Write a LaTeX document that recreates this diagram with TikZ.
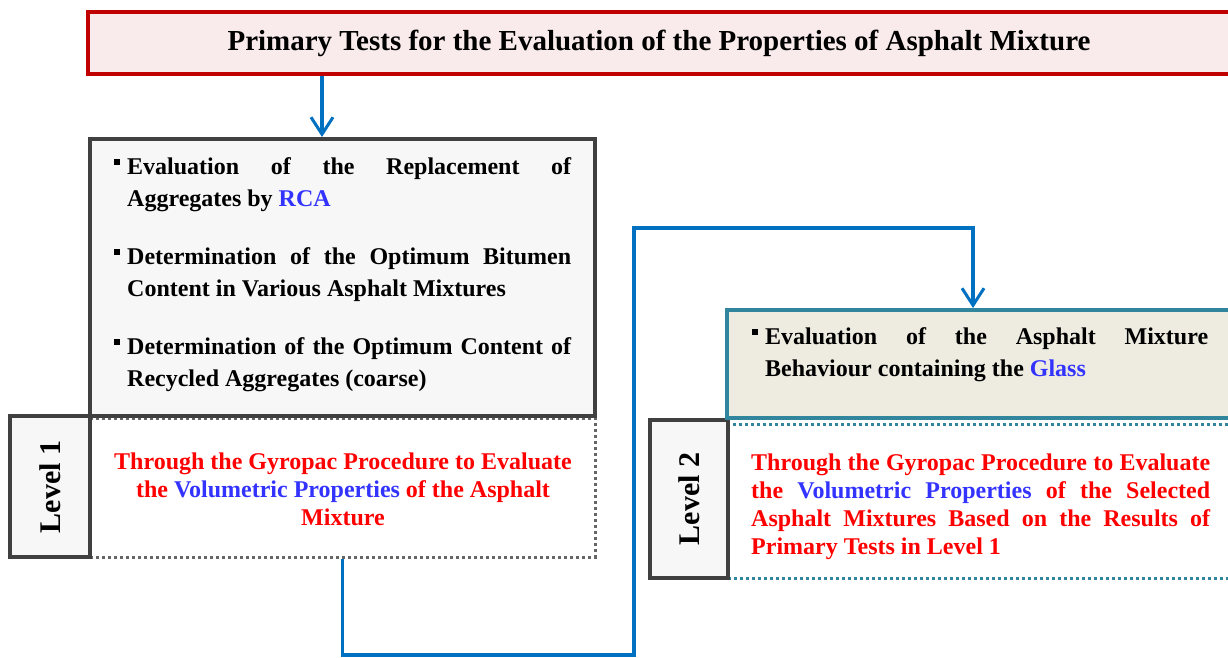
\documentclass[tikz,border=0pt]{standalone}
\usepackage{fontspec}
\setmainfont{Liberation Serif}
\usetikzlibrary{arrows.meta}
\newcommand\nohyph{\hyphenpenalty=10000\exhyphenpenalty=10000\tolerance=9999\emergencystretch=3em\relax}
\newcommand\jpar[2]{\parbox[t]{#1}{\nohyph #2}}
\definecolor{flowblue}{HTML}{0070C0}
\definecolor{txtblue}{HTML}{3333FF}
\definecolor{txtred}{HTML}{FF0000}
\definecolor{titleborder}{HTML}{C00000}
\definecolor{titlefill}{HTML}{F9EBEB}
\definecolor{darkborder}{HTML}{404040}
\definecolor{lightfill}{HTML}{F7F7F7}
\definecolor{tealborder}{HTML}{31859C}
\definecolor{tealfill}{HTML}{EEECE1}
\tikzset{
  panel/.style={draw, line width=4pt, inner sep=0pt},
  dotpanel/.style={draw, line width=3pt, dash pattern=on 3pt off 3pt, fill=white, inner sep=0pt},
  flow/.style={draw=flowblue, line width=3.2pt},
  flowarrow/.style={flow, -{Straight Barb[length=17pt, width=22pt, line width=3pt]}},
  sq/.style={fill=black, minimum size=6.5pt, inner sep=0pt},
  bodytext/.style={font=\bfseries\fontsize{24}{32}\selectfont, inner sep=0pt, anchor=north west},
  redtext/.style={font=\bfseries\fontsize{24}{28}\selectfont, text=txtred, inner sep=0pt},
  leveltext/.style={font=\bfseries\fontsize{30}{34}\selectfont, rotate=90, inner sep=0pt}
}
\begin{document}
\begin{tikzpicture}[x=1pt, y=-1pt]
\useasboundingbox (0,0) rectangle (1228,657);
\clip (0,0) rectangle (1228,657);

% title banner
\node[panel, draw=titleborder, fill=titlefill, minimum width=1144pt, minimum height=62pt] (title) at (660,43) {};
\node[font=\bfseries\fontsize{29}{34}\selectfont, inner sep=0pt] (titletext) at (659,43) {Primary Tests for the Evaluation of the Properties of Asphalt Mixture};

% level 1 blocks
\node[dotpanel, draw=gray!80!black, minimum width=505pt, minimum height=139pt] (dot1) at (342.5,487.5) {};
\node[panel, draw=darkborder, fill=lightfill, minimum width=80pt, minimum height=141pt] (lvl1) at (50,486.5) {};
\node[leveltext] (lvl1text) at (50,487) {Level 1};
\node[panel, draw=darkborder, fill=lightfill, minimum width=505pt, minimum height=277pt] (box1) at (342.5,277.5) {};

\node[sq] (b1) at (117,162) {};
\node[bodytext] (t1) at (127,157) {\jpar{444pt}{Evaluation of the Replacement of Aggregates by \textcolor{txtblue}{RCA}}};
\node[sq] (b2) at (117,252) {};
\node[bodytext] (t2) at (127,247) {\jpar{444pt}{Determination of the Optimum Bitumen Content in Various Asphalt Mixtures}};
\node[sq] (b3) at (117,342) {};
\node[bodytext] (t3) at (127,337) {\jpar{444pt}{Determination of the Optimum Content of Recycled Aggregates (coarse)}};

\node[redtext, align=center] (r1) at (343,489) {Through the Gyropac Procedure to Evaluate\\ the \textcolor{txtblue}{Volumetric Properties} of the Asphalt\\ Mixture};

% level 2 blocks
\node[dotpanel, draw=tealborder, minimum width=512pt, minimum height=154pt] (dot2) at (984,501) {};
\node[panel, draw=darkborder, fill=lightfill, minimum width=78pt, minimum height=158pt] (lvl2) at (689,499) {};
\node[leveltext] (lvl2text) at (689,499) {Level 2};
\node[panel, draw=tealborder, fill=tealfill, minimum width=513pt, minimum height=108pt] (box2) at (983.5,364) {};

\node[sq] (b4) at (755,332) {};
\node[bodytext] (t4) at (765,327) {\jpar{443pt}{Evaluation of the Asphalt Mixture Behaviour containing the \textcolor{txtblue}{Glass}}};

\node[redtext, anchor=north west] (r2) at (751,454) {\jpar{459pt}{Through the Gyropac Procedure to Evaluate the \textcolor{txtblue}{Volumetric Properties} of the Selected Asphalt Mixtures Based on the Results of Primary Tests in Level 1}};

% connectors
\coordinate (in1) at (322,137);
\draw[flowarrow] (title.south -| in1) -- (in1);
\coordinate (k1) at (634,655);
\coordinate (k2) at (634,228);
\coordinate (in2) at (973,308);
\draw[flowarrow] (dot1.south) |- (k1) -- (k2) -| (in2);
\end{tikzpicture}
\end{document}
